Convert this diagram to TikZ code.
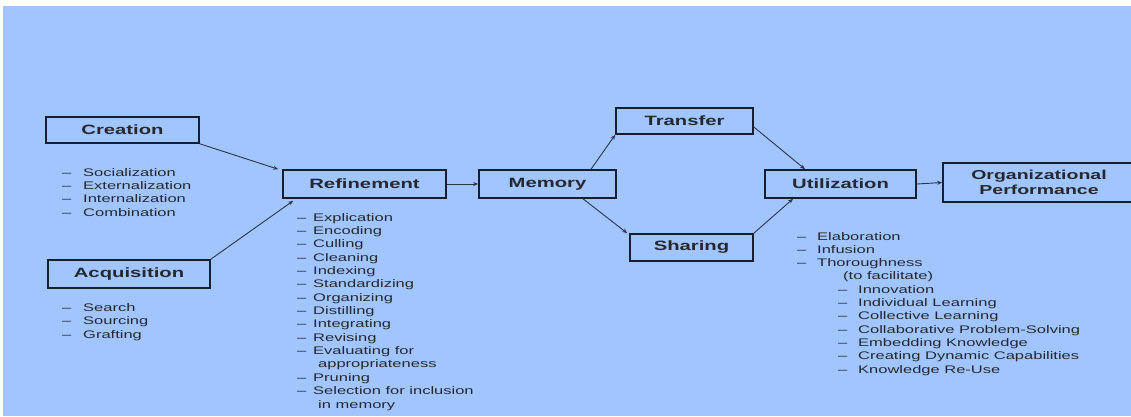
\documentclass[tikz,border=0pt]{standalone}
\usepackage{fontspec}
\setmainfont{Liberation Sans}[FakeStretch=1.5]
\usetikzlibrary{arrows.meta}

\definecolor{bgblue}{RGB}{160,197,255}
\definecolor{edge}{RGB}{22,30,48}
\definecolor{ink}{RGB}{38,40,46}
\definecolor{wire}{RGB}{45,52,70}

\newcommand\itemdash[1]{\makebox[#1][l]{–}}

\tikzset{
  stage/.style={draw=edge, line width=1.6pt, inner sep=0pt, align=center,
    font=\fontsize{13.5}{15}\selectfont\bfseries, text=ink},
  item/.style={anchor=base west, inner sep=0pt,
    font=\fontsize{11}{13}\selectfont, text=ink},
  flow/.style={draw=wire, line width=0.9pt, -{Stealth[length=5pt,width=4pt]}},
}

\begin{document}
\begin{tikzpicture}[x=1pt,y=-1pt]
  \useasboundingbox (0,0) rectangle (1131,416);
  \clip (0,0) rectangle (1131,416);
  \fill[white] (0,0) rectangle (1131,416);
  \fill[bgblue] (3,6) rectangle (1131,416);

  % process stages
  \node[stage, minimum width=153pt, minimum height=26pt] (crea) at (122.5,130) {Creation};
  \node[stage, minimum width=162pt, minimum height=28pt] (acq)  at (129,274)   {Acquisition};
  \node[stage, minimum width=163pt, minimum height=28pt] (ref)  at (364.5,184) {Refinement};
  \node[stage, minimum width=137pt, minimum height=28pt] (mem)  at (547.5,184) {Memory};
  \node[stage, minimum width=137pt, minimum height=26pt] (tr)   at (684.5,121) {Transfer};
  \node[stage, minimum width=123pt, minimum height=27pt] (sh)   at (691.5,247.5) {Sharing};
  \node[stage, minimum width=151pt, minimum height=28pt] (ut)   at (840.5,184) {Utilization};
  \node[stage, minimum width=192pt, minimum height=39pt,
        font=\fontsize{13}{15}\selectfont\bfseries] (org) at (1039,182.5)
        {Organizational\\Performance};

  % connectors
  \draw[flow] (crea.south east) -- ([xshift=-4pt]ref.north west);
  \draw[flow] (acq.north east) -- ([xshift=11pt,yshift=-2pt]ref.south west);
  \draw[flow] (ref.east) -- (mem.west);
  \draw[flow] ([xshift=43.5pt]mem.north) -- (tr.south west);
  \draw[flow] ([xshift=35.5pt]mem.south) -- ([xshift=-2pt]sh.north west);
  \draw[flow] ([yshift=-6pt]tr.east) -- ([xshift=-35.5pt]ut.north);
  \draw[flow] (sh.north east) -- ([xshift=-47.5pt]ut.south);
  \draw[flow] (ut.east) -- (org.west);

  % creation modes
  \foreach \t [count=\i] in {Socialization, Externalization, Internalization, Combination}
    \node[item] (cr\i) at (62,{176+13.4*(\i-1)}) {\itemdash{21pt}\t};

  % acquisition modes
  \foreach \t [count=\i] in {Search, Sourcing, Grafting}
    \node[item] (aq\i) at (62,{311+13.5*(\i-1)}) {\itemdash{21pt}\t};

  % refinement activities (0 = continuation line)
  \foreach \d/\t [count=\i] in {1/Explication, 1/Encoding, 1/Culling, 1/Cleaning,
      1/Indexing, 1/Standardizing, 1/Organizing, 1/Distilling, 1/Integrating,
      1/Revising, 1/Evaluating for, 0/appropriateness, 1/Pruning,
      1/Selection for inclusion, 0/in memory}
    \node[item] (rf\i) at (297,{221+13.36*(\i-1)})
      {\ifnum\d=1 \itemdash{16pt}\else\hspace*{21pt}\fi\t};

  % utilization qualities
  \foreach \t [count=\i] in {Elaboration, Infusion, Thoroughness}
    \node[item] (ua\i) at (797,{240+13.3*(\i-1)}) {\itemdash{20pt}\t};
  \node[item] (uf) at (843,{240+13.3*3}) {(to facilitate)};
  \foreach \t [count=\i] in {Innovation, Individual Learning, Collective Learning,
      Collaborative Problem-Solving, Embedding Knowledge,
      Creating Dynamic Capabilities, Knowledge Re-Use}
    \node[item] (ub\i) at (838,{240+13.3*(\i+3)}) {\itemdash{20pt}\t};
\end{tikzpicture}
\end{document}
